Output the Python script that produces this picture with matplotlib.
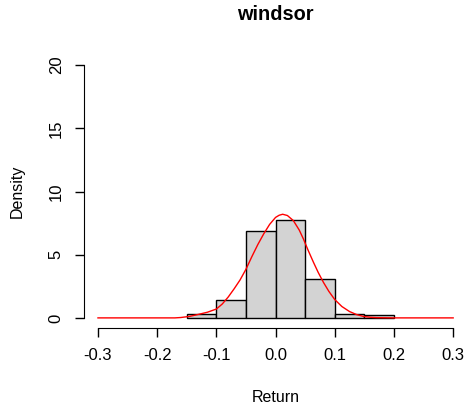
import matplotlib
matplotlib.use("Agg")
import matplotlib.pyplot as plt

plt.rcParams['font.family'] = ['Liberation Sans', 'DejaVu Sans']

# histogram of windsor returns (density scale)
bin_edges = [-0.15, -0.10, -0.05, 0.00, 0.05, 0.10, 0.15, 0.20]
densities = [0.3, 1.4, 6.9, 7.75, 3.1, 0.3, 0.2]

# density curve
curve_x = [-0.30, -0.20, -0.17, -0.16, -0.145, -0.13, -0.115, -0.10, -0.09, -0.08, -0.07,
           -0.06, -0.05, -0.04, -0.03, -0.02, -0.01, 0.0, 0.006, 0.012, 0.02, 0.03,
           0.04, 0.047, 0.055, 0.064, 0.072, 0.081, 0.09, 0.10, 0.112, 0.125, 0.137,
           0.148, 0.16, 0.17, 0.20, 0.30]
curve_y = [0.0, 0.0, 0.0, 0.03, 0.12, 0.28, 0.45, 0.7, 1.1, 1.65, 2.3,
           3.0, 3.85, 4.85, 5.8, 6.65, 7.4, 7.95, 8.12, 8.2, 8.1, 7.7,
           6.95, 6.25, 5.35, 4.4, 3.6, 2.8, 2.1, 1.45, 0.9, 0.5, 0.26,
           0.12, 0.05, 0.02, 0.0, 0.0]

fig = plt.figure(figsize=(4.65, 4.08), dpi=100)
ax = fig.add_axes([84/465, 1-328/408, (465-84)/465, 273/408])

widths = [b - a for a, b in zip(bin_edges[:-1], bin_edges[1:])]
ax.bar(bin_edges[:-1], densities, width=widths, align='edge',
       color='#D3D3D3', edgecolor='black', linewidth=1)
ax.plot(curve_x, curve_y, color='red', linewidth=1)

ax.set_xlim(-0.3236, 0.32)
ax.set_ylim(-0.8, 20.8)
for s in ['top', 'right']:
    ax.spines[s].set_visible(False)
ax.spines['bottom'].set_bounds(-0.3, 0.3)
ax.spines['left'].set_bounds(0, 20)
ax.set_xticks([-0.3, -0.2, -0.1, 0.0, 0.1, 0.2, 0.3])
ax.set_xticklabels(['-0.3', '-0.2', '-0.1', '0.0', '0.1', '0.2', '0.3'])
ax.set_yticks([0, 5, 10, 15, 20])
ax.tick_params(axis='both', length=6.5, width=1, labelsize=12)
ax.tick_params(axis='x', pad=8)
ax.tick_params(axis='y', pad=8)
for lab in ax.get_yticklabels():
    lab.set_rotation(90)
    lab.set_va('center')

fig.text(275.5/465, 1-15/408, 'windsor', ha='center', va='center',
         fontsize=14.4, fontweight='bold')
fig.text(275.5/465, 1-397/408, 'Return', ha='center', va='center', fontsize=11.5)
fig.text(17/465, 1-191/408, 'Density', ha='center', va='center',
         rotation=90, fontsize=11.5)

fig.savefig('out.png', dpi=100)
